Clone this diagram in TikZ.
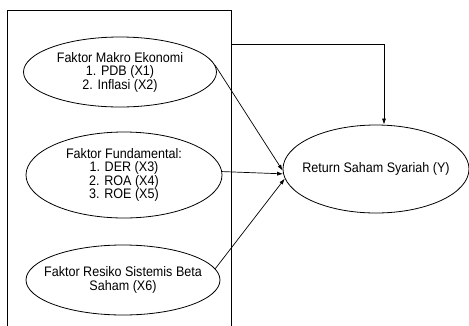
\documentclass[tikz,border=0pt]{standalone}
\usepackage{fontspec}
\setmainfont{Liberation Sans}[FakeStretch=0.91]
\usetikzlibrary{shapes.geometric, arrows.meta, positioning}
\definecolor{cLine}{HTML}{000000}
\definecolor{cText}{HTML}{000000}
\tikzset{
  faktor/.style={
    draw=cLine, ellipse, line width=0.8pt,
    inner xsep=-14pt, inner ysep=0pt,
    font=\fontsize{13.8}{13.5}\selectfont, text=cText,
    align=center,
  },
  arw/.style={-{Latex[length=6pt, width=4pt]}, line width=0.7pt, color=#1},
  arw/.default=cLine,
}

\begin{document}
\begin{tikzpicture}[x=1pt, y=-1pt]
  \useasboundingbox (0,0) rectangle (469,325);

  % frame round the factors
  \draw[line width=0.7pt, cLine] (7,330) -- (7,10) -- (231,10) -- (231,330);
  \coordinate (boxtop) at (231,44);

  \node[faktor, minimum width=193pt, minimum height=70pt] (makro) at (120,72)
    {Faktor Makro Ekonomi\\1. PDB (X1)\\2. Inflasi (X2)};
  \node[faktor, minimum width=196pt, minimum height=86pt] (fund) at (124,175)
    {Faktor Fundamental:\\1. DER (X3)\\2. ROA (X4)\\3. ROE (X5)};
  \node[faktor, minimum width=194pt, minimum height=70pt] (resiko) at (123,280)
    {Faktor Resiko Sistemis Beta\\Saham (X6)};

  % Dependent
  \node[faktor, minimum width=186pt, minimum height=88pt] (ret) at (376,169)
    {Return Saham Syariah (Y)};

  \draw[arw] (boxtop) -| ([xshift=8pt]ret.north);
  \draw[arw] (makro.4) -- (ret.181);
  \draw[arw] (fund.2) -- (ret.183);
  \draw[arw] (resiko.7) -- (ret.186);

\end{tikzpicture}
\end{document}
